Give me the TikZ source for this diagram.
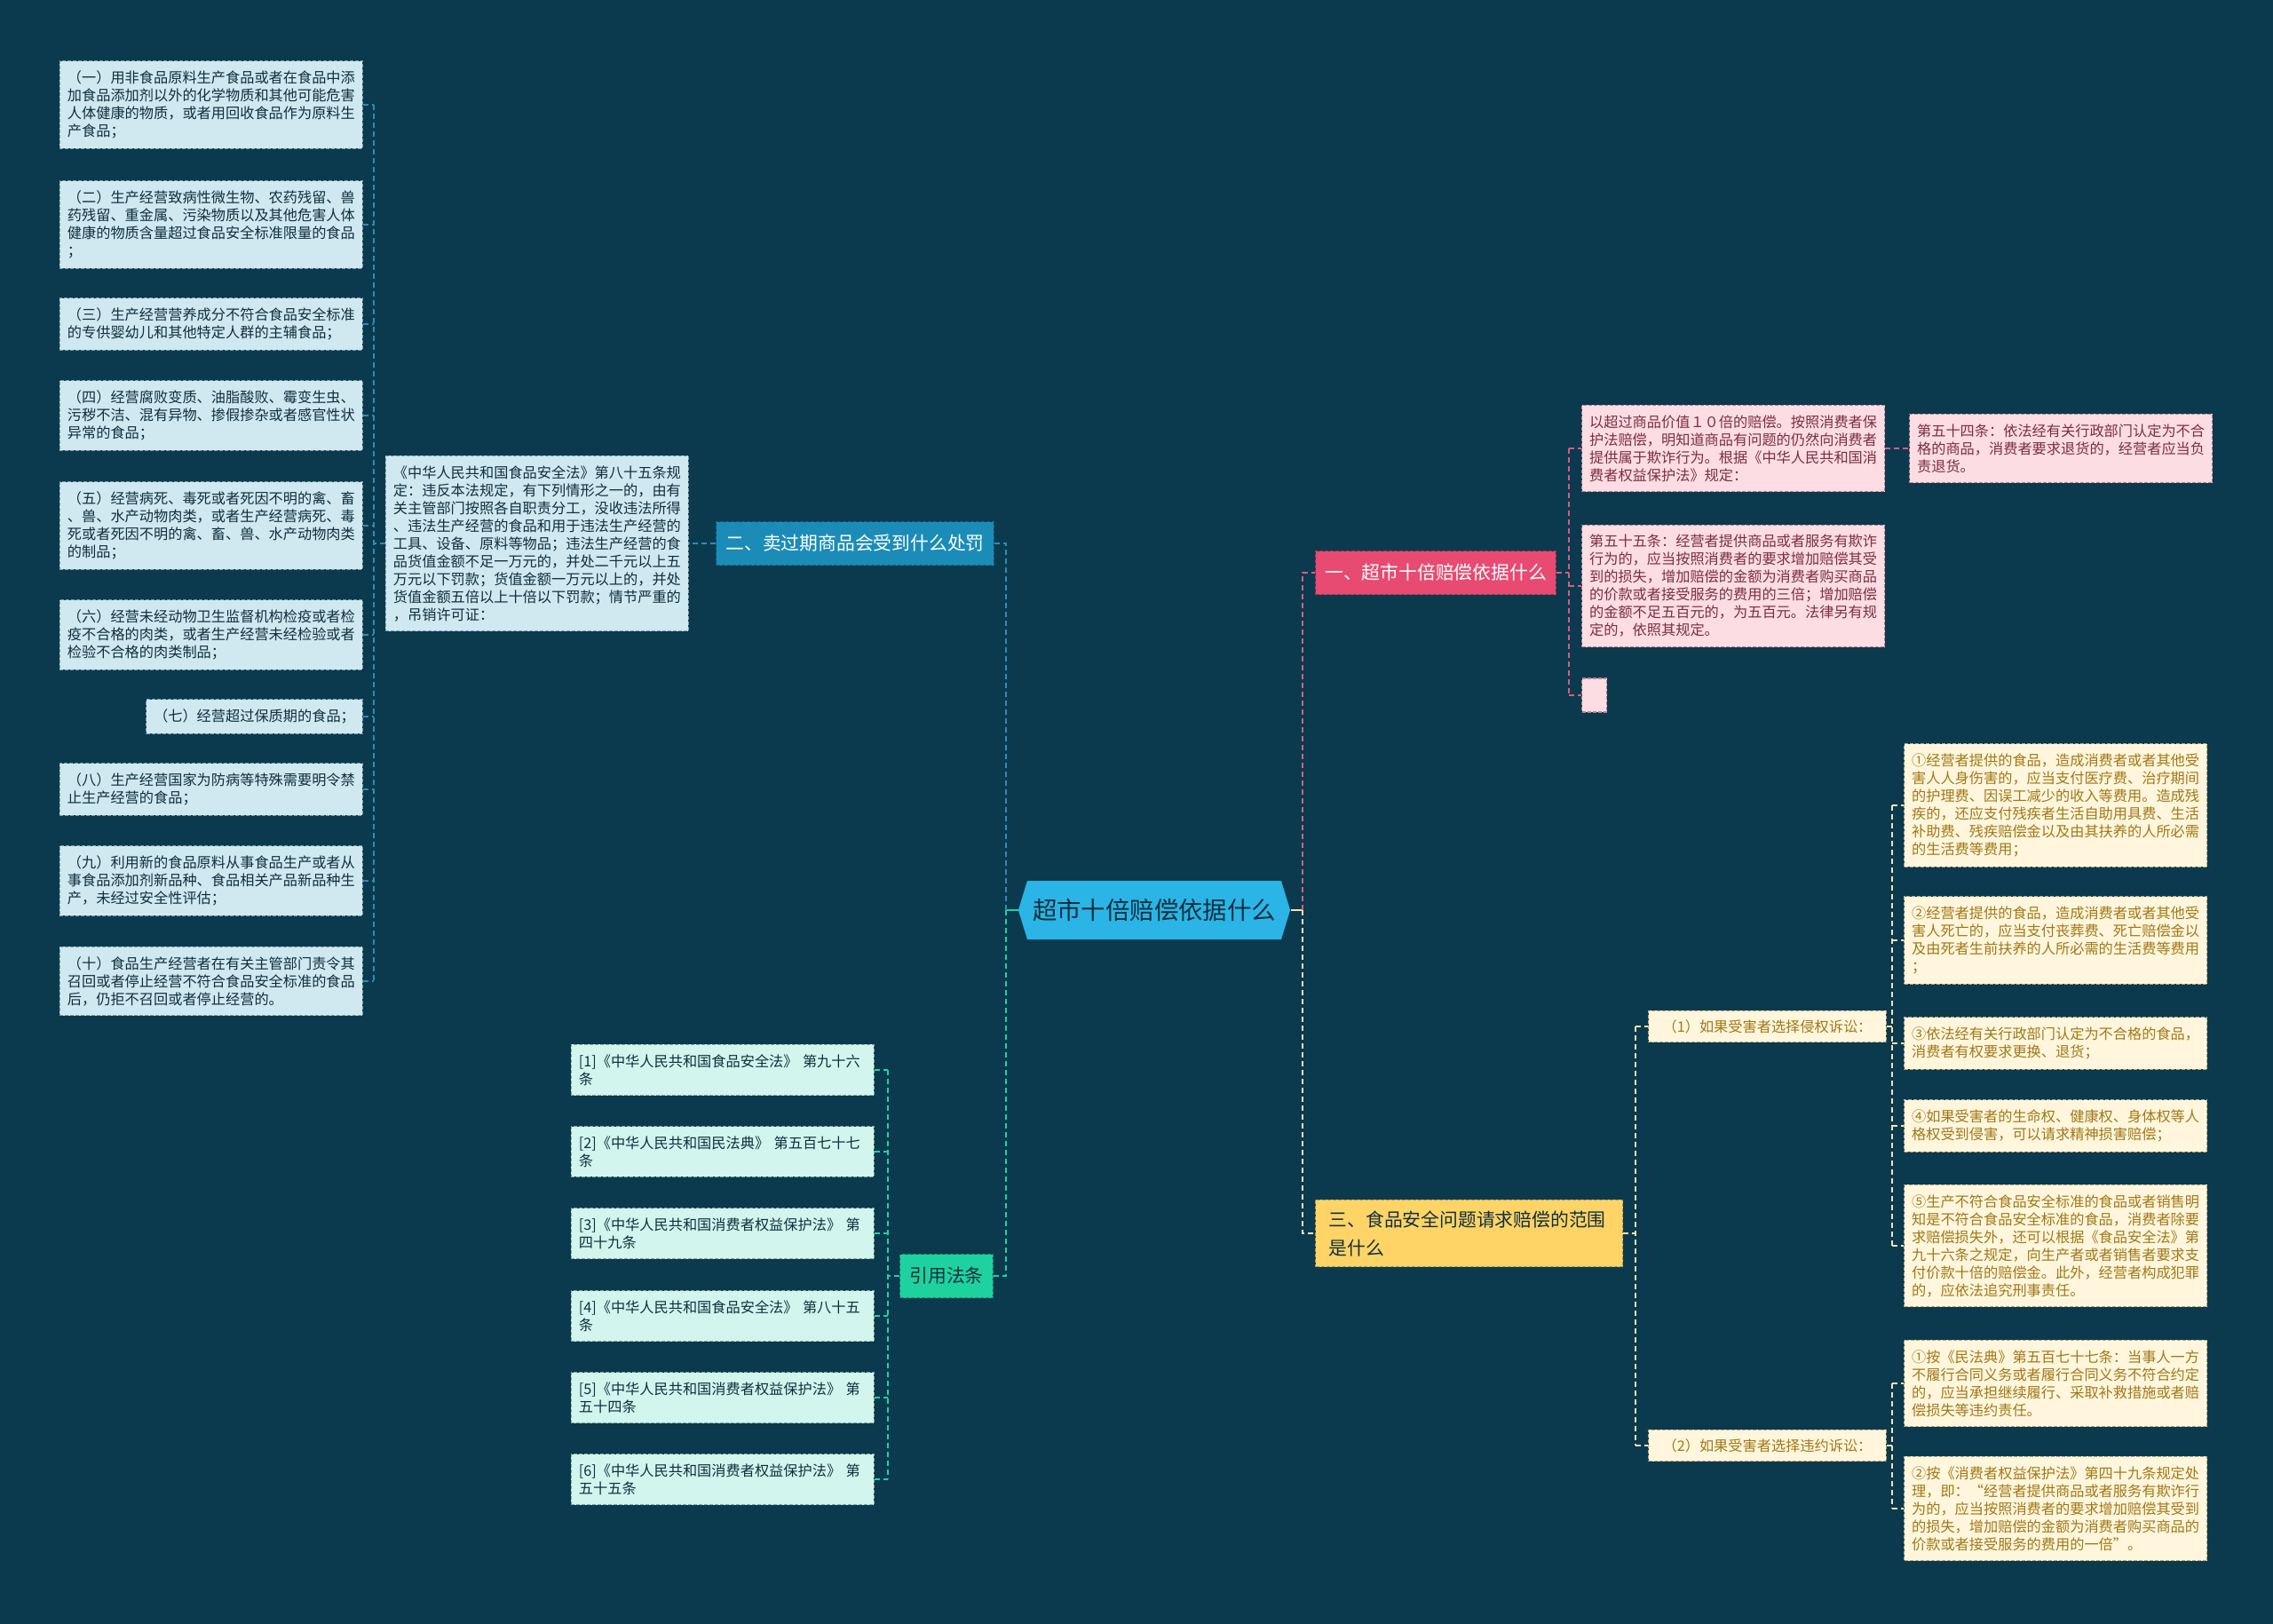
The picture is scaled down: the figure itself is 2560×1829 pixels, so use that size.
\documentclass[tikz,border=0pt]{standalone}
\usepackage{fontspec}
\setmainfont{Noto Sans CJK SC}
\usetikzlibrary{shapes.symbols}

\definecolor{bgcol}{HTML}{0B3A4E}
\definecolor{hubfill}{HTML}{2AB5E6}
\definecolor{darktext}{HTML}{0E2F3D}
\definecolor{pinkhead}{HTML}{E84A72}
\definecolor{bluehead}{HTML}{1B8CB8}
\definecolor{goldhead}{HTML}{FFD466}
\definecolor{greenhead}{HTML}{1ED2A0}
\definecolor{blueleaf}{HTML}{D0E9F1}
\definecolor{blueedge}{HTML}{7F9FAA}
\definecolor{pinkleaf}{HTML}{FCDDE3}
\definecolor{pinkedge}{HTML}{B9818F}
\definecolor{pinktext}{HTML}{7A2E42}
\definecolor{goldleaf}{HTML}{FFF6DD}
\definecolor{goldedge}{HTML}{B8A777}
\definecolor{goldtext}{HTML}{A07818}
\definecolor{mintleaf}{HTML}{D2F6EE}
\definecolor{mintedge}{HTML}{7FA9A0}
\definecolor{blueline}{HTML}{2E8DB5}
\definecolor{pinkline}{HTML}{D85C85}
\definecolor{goldline}{HTML}{F3E3B3}
\definecolor{greenline}{HTML}{1ED2A0}

\begin{document}
\begin{tikzpicture}[x=0.5pt,y=-0.5pt,
  box/.style={rectangle, draw, dash pattern=on 2pt off 1pt, line width=0.6pt,
    inner xsep=4.25pt, inner ysep=5.5pt, align=left,
    font=\fontsize{8.1}{10}\selectfont},
  wide/.style={box, text width=162pt},
  bluebox/.style={fill=blueleaf, draw=blueedge, text=darktext},
  pinkbox/.style={fill=pinkleaf, draw=pinkedge, text=pinktext},
  goldbox/.style={fill=goldleaf, draw=goldedge, text=goldtext},
  mintbox/.style={fill=mintleaf, draw=mintedge, text=darktext},
  head/.style={rectangle, draw, dash pattern=on 2pt off 1pt, line width=0.6pt,
    inner xsep=5.3pt, minimum height=24.5pt, font=\fontsize{10.4}{16}\selectfont},
  link/.style={dash pattern=on 3pt off 2pt, line width=0.9pt}]

  \fill[bgcol] (0,0) rectangle (2560,1829);
  \useasboundingbox (0,0) rectangle (2560,1829);

  \node[signal, signal to=west and east, signal pointer angle=146, fill=hubfill,
    text=darktext, minimum height=33pt, inner xsep=3pt,
    font=\fontsize{13.7}{16}\selectfont] (hub) at (1300,1025) {超市十倍赔偿依据什么};

  \node[head, fill=pinkhead, draw=pinkhead!70!black, text=white] (b1) at (1617,645) {一、超市十倍赔偿依据什么};
  \node[head, fill=bluehead, draw=bluehead!70!black, text=white] (b2) at (963,612) {二、卖过期商品会受到什么处罚};
  \node[head, fill=goldhead, draw=goldhead!70!black, text=darktext, anchor=west, text width=158pt,
    inner xsep=7.5pt, inner ysep=6pt, align=left] (b3) at (1481,1389) {三、食品安全问题请求赔偿的范围\\是什么};
  \node[head, fill=greenhead, draw=greenhead!70!black, text=darktext] (b4) at (1066,1437) {引用法条};

  \node[wide, bluebox, anchor=east] (law) at (776,612) {《中华人民共和国食品安全法》第八十五条规\\定：违反本法规定，有下列情形之一的，由有\\关主管部门按照各自职责分工，没收违法所得\\、违法生产经营的食品和用于违法生产经营的\\工具、设备、原料等物品；违法生产经营的食\\品货值金额不足一万元的，并处二千元以上五\\万元以下罚款；货值金额一万元以上的，并处\\货值金额五倍以上十倍以下罚款；情节严重的\\，吊销许可证：};

  \node[wide, bluebox, anchor=east] (p1) at (409,118) {（一）用非食品原料生产食品或者在食品中添\\加食品添加剂以外的化学物质和其他可能危害\\人体健康的物质，或者用回收食品作为原料生\\产食品；};
  \node[wide, bluebox, anchor=east] (p2) at (409,253) {（二）生产经营致病性微生物、农药残留、兽\\药残留、重金属、污染物质以及其他危害人体\\健康的物质含量超过食品安全标准限量的食品\\；};
  \node[wide, bluebox, anchor=east] (p3) at (409,365) {（三）生产经营营养成分不符合食品安全标准\\的专供婴幼儿和其他特定人群的主辅食品；};
  \node[wide, bluebox, anchor=east] (p4) at (409,468) {（四）经营腐败变质、油脂酸败、霉变生虫、\\污秽不洁、混有异物、掺假掺杂或者感官性状\\异常的食品；};
  \node[wide, bluebox, anchor=east] (p5) at (409,592) {（五）经营病死、毒死或者死因不明的禽、畜\\、兽、水产动物肉类，或者生产经营病死、毒\\死或者死因不明的禽、畜、兽、水产动物肉类\\的制品；};
  \node[wide, bluebox, anchor=east] (p6) at (409,715) {（六）经营未经动物卫生监督机构检疫或者检\\疫不合格的肉类，或者生产经营未经检验或者\\检验不合格的肉类制品；};
  \node[box, bluebox, anchor=east] (p7) at (409,807) {（七）经营超过保质期的食品；};
  \node[wide, bluebox, anchor=east] (p8) at (409,889) {（八）生产经营国家为防病等特殊需要明令禁\\止生产经营的食品；};
  \node[wide, bluebox, anchor=east] (p9) at (409,992) {（九）利用新的食品原料从事食品生产或者从\\事食品添加剂新品种、食品相关产品新品种生\\产，未经过安全性评估；};
  \node[wide, bluebox, anchor=east] (p10) at (409,1105) {（十）食品生产经营者在有关主管部门责令其\\召回或者停止经营不符合食品安全标准的食品\\后，仍拒不召回或者停止经营的。};

  \node[wide, pinkbox, anchor=west] (k1) at (1781,505) {以超过商品价值１０倍的赔偿。按照消费者保\\护法赔偿，明知道商品有问题的仍然向消费者\\提供属于欺诈行为。根据《中华人民共和国消\\费者权益保护法》规定：};
  \node[wide, pinkbox, anchor=west] (k2) at (1781,660) {第五十五条：经营者提供商品或者服务有欺诈\\行为的，应当按照消费者的要求增加赔偿其受\\到的损失，增加赔偿的金额为消费者购买商品\\的价款或者接受服务的费用的三倍；增加赔偿\\的金额不足五百元的，为五百元。法律另有规\\定的，依照其规定。};
  \node[box, pinkbox, anchor=west, minimum width=14pt, minimum height=19pt] (k3) at (1781,783) {};
  \node[wide, pinkbox, anchor=west] (k4) at (2150,505) {第五十四条：依法经有关行政部门认定为不合\\格的商品，消费者要求退货的，经营者应当负\\责退货。};

  \node[box, goldbox, anchor=west, inner xsep=8pt, inner ysep=5pt] (s1) at (1856,1156) {（1）如果受害者选择侵权诉讼：};
  \node[box, goldbox, anchor=west, inner xsep=8pt, inner ysep=5pt] (s2) at (1856,1628) {（2）如果受害者选择违约诉讼：};

  \node[wide, goldbox, anchor=west] (t1) at (2144,907) {①经营者提供的食品，造成消费者或者其他受\\害人人身伤害的，应当支付医疗费、治疗期间\\的护理费、因误工减少的收入等费用。造成残\\疾的，还应支付残疾者生活自助用具费、生活\\补助费、残疾赔偿金以及由其扶养的人所必需\\的生活费等费用；};
  \node[wide, goldbox, anchor=west] (t2) at (2144,1059) {②经营者提供的食品，造成消费者或者其他受\\害人死亡的，应当支付丧葬费、死亡赔偿金以\\及由死者生前扶养的人所必需的生活费等费用\\；};
  \node[wide, goldbox, anchor=west] (t3) at (2144,1175) {③依法经有关行政部门认定为不合格的食品，\\消费者有权要求更换、退货；};
  \node[wide, goldbox, anchor=west] (t4) at (2144,1268) {④如果受害者的生命权、健康权、身体权等人\\格权受到侵害，可以请求精神损害赔偿；};
  \node[wide, goldbox, anchor=west] (t5) at (2144,1403) {⑤生产不符合食品安全标准的食品或者销售明\\知是不符合食品安全标准的食品，消费者除要\\求赔偿损失外，还可以根据《食品安全法》第\\九十六条之规定，向生产者或者销售者要求支\\付价款十倍的赔偿金。此外，经营者构成犯罪\\的，应依法追究刑事责任。};
  \node[wide, goldbox, anchor=west] (u1) at (2144,1558) {①按《民法典》第五百七十七条：当事人一方\\不履行合同义务或者履行合同义务不符合约定\\的，应当承担继续履行、采取补救措施或者赔\\偿损失等违约责任。};
  \node[wide, goldbox, anchor=west] (u2) at (2144,1699) {②按《消费者权益保护法》第四十九条规定处\\理，即：“经营者提供商品或者服务有欺诈行\\为的，应当按照消费者的要求增加赔偿其受到\\的损失，增加赔偿的金额为消费者购买商品的\\价款或者接受服务的费用的一倍”。};

  \node[wide, mintbox, anchor=east] (r1) at (985,1205) {[1]《中华人民共和国食品安全法》 第九十六\\条};
  \node[wide, mintbox, anchor=east] (r2) at (985,1297) {[2]《中华人民共和国民法典》 第五百七十七\\条};
  \node[wide, mintbox, anchor=east] (r3) at (985,1389) {[3]《中华人民共和国消费者权益保护法》 第\\四十九条};
  \node[wide, mintbox, anchor=east] (r4) at (985,1482) {[4]《中华人民共和国食品安全法》 第八十五\\条};
  \node[wide, mintbox, anchor=east] (r5) at (985,1574) {[5]《中华人民共和国消费者权益保护法》 第\\五十四条};
  \node[wide, mintbox, anchor=east] (r6) at (985,1666) {[6]《中华人民共和国消费者权益保护法》 第\\五十五条};

  \coordinate (hl) at (1133,1025);
  \coordinate (hr) at (1467,1025);
  \draw[greenline, line width=1pt] (hub.west) -- (hl);
  \draw[goldline, line width=1pt] (hub.east) -- (hr);
  \draw[link, blueline] (hl) |- (b2.east);
  \draw[link, greenline] (hl) |- (b4.east);
  \draw[link, pinkline] (hr) |- (b1.west);
  \draw[link, goldline] (hr) |- (b3.west);

  \coordinate (lj) at (421,612);
  \draw[link, blueline] (b2.west) -- (law.east);
  \draw[link, blueline] (law.west) -- (lj);
  \draw[link, blueline] (lj |- p1.east) -- (lj |- p10.east);
  \draw[link, blueline] (p1.east) -- (lj |- p1.east);
  \draw[link, blueline] (p2.east) -- (lj |- p2.east);
  \draw[link, blueline] (p3.east) -- (lj |- p3.east);
  \draw[link, blueline] (p4.east) -- (lj |- p4.east);
  \draw[link, blueline] (p5.east) -- (lj |- p5.east);
  \draw[link, blueline] (p6.east) -- (lj |- p6.east);
  \draw[link, blueline] (p7.east) -- (lj |- p7.east);
  \draw[link, blueline] (p8.east) -- (lj |- p8.east);
  \draw[link, blueline] (p9.east) -- (lj |- p9.east);
  \draw[link, blueline] (p10.east) -- (lj |- p10.east);

  \coordinate (kj) at (1767,645);
  \draw[link, pinkline] (b1.east) -- (kj);
  \draw[link, pinkline] (kj |- k1.west) -- (kj |- k3.west);
  \draw[link, pinkline] (kj |- k1.west) -- (k1.west);
  \draw[link, pinkline] (kj |- k2.west) -- (k2.west);
  \draw[link, pinkline] (kj |- k3.west) -- (k3.west);
  \draw[link, pinkline] (k1.east) -- (k4.west);

  \coordinate (yj) at (1842,1389);
  \draw[link, goldline] (b3.east) -- (yj);
  \draw[link, goldline] (yj |- s1.west) -- (yj |- s2.west);
  \draw[link, goldline] (yj |- s1.west) -- (s1.west);
  \draw[link, goldline] (yj |- s2.west) -- (s2.west);

  \coordinate (tj) at (2131,1156);
  \draw[link, goldline] (s1.east) -- (tj);
  \draw[link, goldline] (tj |- t1.west) -- (tj |- t5.west);
  \draw[link, goldline] (tj |- t1.west) -- (t1.west);
  \draw[link, goldline] (tj |- t2.west) -- (t2.west);
  \draw[link, goldline] (tj |- t3.west) -- (t3.west);
  \draw[link, goldline] (tj |- t4.west) -- (t4.west);
  \draw[link, goldline] (tj |- t5.west) -- (t5.west);

  \coordinate (uj) at (2131,1628);
  \draw[link, goldline] (s2.east) -- (uj);
  \draw[link, goldline] (uj |- u1.west) -- (uj |- u2.west);
  \draw[link, goldline] (uj |- u1.west) -- (u1.west);
  \draw[link, goldline] (uj |- u2.west) -- (u2.west);

  \coordinate (rj) at (1000,1437);
  \draw[link, greenline] (b4.west) -- (rj);
  \draw[link, greenline] (rj |- r1.east) -- (rj |- r6.east);
  \draw[link, greenline] (r1.east) -- (rj |- r1.east);
  \draw[link, greenline] (r2.east) -- (rj |- r2.east);
  \draw[link, greenline] (r3.east) -- (rj |- r3.east);
  \draw[link, greenline] (r4.east) -- (rj |- r4.east);
  \draw[link, greenline] (r5.east) -- (rj |- r5.east);
  \draw[link, greenline] (r6.east) -- (rj |- r6.east);
\end{tikzpicture}
\end{document}
